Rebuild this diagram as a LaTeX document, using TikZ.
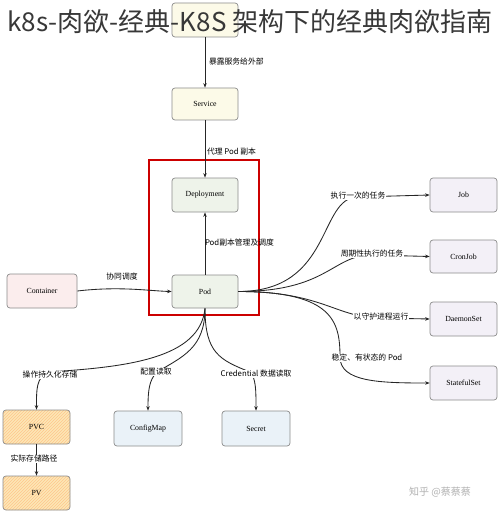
\documentclass[tikz,border=0pt]{standalone}
\usepackage{fontspec}
\setmainfont{Liberation Serif}
\newfontfamily\cjk{Noto Sans CJK SC}
\usetikzlibrary{arrows.meta,patterns}
\definecolor{cyel}{HTML}{FCFAE8}
\definecolor{cgrn}{HTML}{EEF3EA}
\definecolor{cpnk}{HTML}{FBEDED}
\definecolor{cpur}{HTML}{F3F0F7}
\definecolor{corg}{HTML}{FCE7B6}
\definecolor{cblu}{HTML}{EAF2F8}
\begin{document}
\begin{tikzpicture}[x=1pt,y=-1pt,
  box/.style={draw=black!45, rounded corners=3pt, line width=0.7pt,
    minimum width=66pt, minimum height=33pt, inner sep=0pt,
    font=\fontsize{7.8}{9}\selectfont},
  lbl/.style={font=\cjk\fontsize{7.8}{9}\selectfont, fill=white, inner sep=0.8pt},
  side/.style={font=\cjk\fontsize{7.8}{9}\selectfont, inner sep=0.8pt, anchor=west},
  conn/.style={draw=black!85, line width=0.85pt, -{Stealth[length=4.5pt,width=3.5pt]}},
  hatch/.style={preaction={fill=corg}, pattern=north east lines, pattern color=orange!45}
]
\useasboundingbox (0,0) rectangle (500,513);
\fill[white] (0,0) rectangle (500,513);

% nodes
\node[box, fill=cyel, minimum height=34pt] (top) at (205,20) {};
\node[box, fill=cyel, minimum height=32pt] (svc) at (205,104) {Service};
\node[box, fill=cgrn, minimum height=34pt] (dep) at (205,195) {Deployment};
\node[box, fill=cgrn] (pod) at (205,291.5) {Pod};
\node[box, fill=cpnk, minimum width=70pt, minimum height=34pt] (cont) at (42,291) {Container};
\node[box, fill=cpur, minimum width=67pt, minimum height=34pt] (job) at (463.5,195) {Job};
\node[box, fill=cpur, minimum width=67pt] (cron) at (463.5,256.5) {CronJob};
\node[box, fill=cpur, minimum width=67pt, minimum height=34pt] (daemon) at (463.5,319) {DaemonSet};
\node[box, fill=cpur, minimum width=67pt, minimum height=34pt] (stateful) at (463.5,383) {StatefulSet};
\node[box, hatch, minimum width=67pt, minimum height=34pt] (pvc) at (36.5,427) {PVC};
\node[box, hatch, minimum width=67pt, minimum height=34pt] (pv) at (36.5,493) {PV};
\node[box, fill=cblu, minimum width=68pt, minimum height=35pt] (cm) at (148,428.5) {ConfigMap};
\node[box, fill=cblu, minimum width=68pt, minimum height=35pt] (sec) at (256,428.5) {Secret};

% red frame
\draw[red!80!black, line width=1.3pt] (149,160) rectangle (259,315);

% label positions
\coordinate (jlab) at (358,197);
\coordinate (clab) at (372,255);
\coordinate (dlab) at (381,318);
\coordinate (sbend) at (340,357);
\coordinate (plab) at (48,372);
\coordinate (cmlab) at (157,372);
\coordinate (seclab) at (250,372);

% connectors
\draw[conn] (top.south) -- (svc.north);
\draw[conn] (svc.south) -- (dep.north);
\draw[conn] (pod.north) -- (dep.south);
\draw[conn] (cont.east) .. controls (120,286) and (150,291) .. (pod.west);
\draw[conn] (pod.east) .. controls +(95,0) and +(-40,0) .. (jlab) -- (job.west);
\draw[conn] (pod.east) .. controls +(90,0) and +(-40,0) .. (clab) -- (cron.west);
\draw[conn] (pod.east) .. controls +(85,0) and +(-45,0) .. (dlab) -- (daemon.west);
\draw[conn] (pod.east) .. controls +(95,0) and +(0,-35) .. (sbend) .. controls +(0,25) and +(-50,0) .. (stateful.west);
\draw[conn] (pod.south) .. controls +(-5,50) and +(80,-5) .. (plab) .. controls +(-12,6) and +(0,-20) .. (pvc.north);
\draw[conn] (pod.south) .. controls +(0,40) and +(25,-15) .. (cmlab) .. controls +(-8,8) and +(0,-20) .. (cm.north);
\draw[conn] (pod.south) .. controls +(0,45) and +(-30,-12) .. (seclab) .. controls +(6,6) and +(0,-20) .. (sec.north);
\draw[conn] (pvc.south) -- (pv.north);

% labels
\node[side] (l1) at (208,62) {暴露服务给外部};
\node[side] (l2) at (206,152) {代理 Pod 副本};
\node[side] (l3) at (204,243) {Pod副本管理及调度};
\node[lbl] (l4) at (122,277) {协同调度};
\node[lbl] (l5) at (358,196) {执行一次的任务};
\node[lbl] (l6) at (372,254) {周期性执行的任务};
\node[lbl] (l7) at (381,317) {以守护进程运行};
\node[lbl] (l8) at (367,358) {稳定、有状态的 \textit{Pod}};
\node[lbl] (l9) at (50,375) {操作持久化存储};
\node[lbl] (l10) at (156,372) {配置读取};
\node[lbl] (l11) at (256,374) {Credential 数据读取};
\node[lbl] (l12) at (34,459) {实际存储路径};

% title and watermark
\node[font=\cjk\fontsize{26}{29}\selectfont, text=black!78, inner sep=0pt] (title) at (250,22) {k8s-肉欲-经典-K8S 架构下的经典肉欲指南};
\node[font=\cjk\fontsize{10}{12}\selectfont, text=black!30, inner sep=0pt] (wm) at (440,492) {知乎 @蔡蔡蔡};
\end{tikzpicture}
\end{document}
